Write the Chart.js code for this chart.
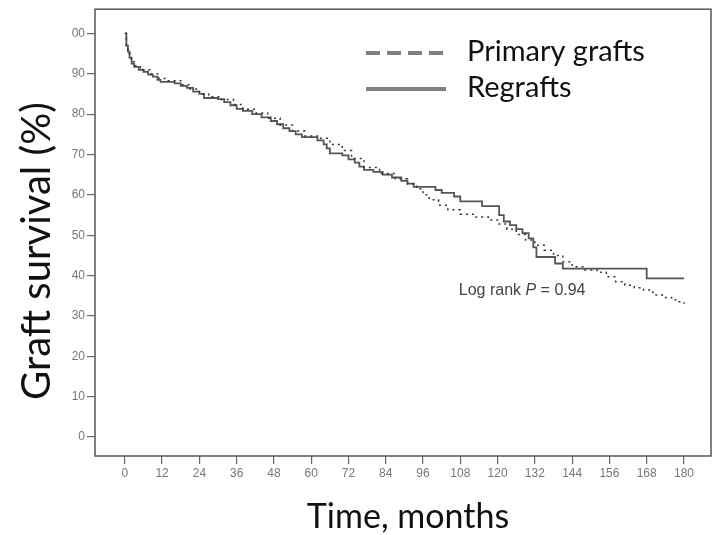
<!DOCTYPE html>
<html lang="en">
<head>
    <meta charset="UTF-8">
    <title>Graft survival</title>
    <script src="https://cdn.jsdelivr.net/npm/chart.js"></script>
    <style>
        body {
            margin: 0;
            padding: 0;
            background-color: #fff;
        }
        #wrap {
            width: 720px;
            height: 535px;
        }
    </style>
</head>
<body>
    <div id="wrap">
        <canvas id="kmChart" width="720" height="535"></canvas>
    </div>

    <script>
        // Kaplan-Meier steps (month, survival %)
        var regraftMonths = [0, 0.5, 1, 1.5, 2.2, 3, 4.5, 6, 7.5, 9, 10.5, 11.5, 16, 18, 20, 22, 24, 25.5, 30, 32, 34, 36, 38, 41, 44, 47, 49, 51, 53, 55, 57, 62, 64, 65, 66, 70, 72, 74, 75.5, 77, 80, 83, 86, 89, 91, 93, 100, 102, 106, 108, 115, 120.5, 122, 124, 126, 128, 130, 131.5, 132.5, 138.5, 141, 168, 180];
        var regraftValues = [100, 97, 95.5, 94, 92.5, 91.7, 91, 90.5, 89.8, 89.3, 88.5, 88, 87.6, 87, 86.5, 85.6, 85, 84, 83.7, 83, 82.2, 81.3, 80.8, 80, 79.2, 78.3, 77.5, 76.5, 75.8, 75, 74.3, 73.5, 72.5, 71.5, 70.3, 69.8, 68.8, 68, 67, 66.2, 65.7, 65, 64.3, 63.5, 62.8, 62, 61.2, 60.5, 59.6, 58.4, 57.2, 55, 53.4, 52.5, 51.5, 50.5, 49.2, 47, 44.6, 43, 41.7, 39.3, 39.3];

        var primaryMonths = [0, 0.5, 1, 2, 3, 5, 8, 11, 14, 18, 21, 24, 27, 31, 35, 38, 42, 46, 50, 54, 58, 62, 66, 70, 73, 77, 82, 87, 91, 94, 96, 98, 101, 104, 108, 113, 117, 120, 123, 126, 129, 132, 135, 138, 141, 144, 148, 152, 155, 158, 161, 164, 167, 170, 173, 176, 178, 180];
        var primaryValues = [100, 97, 95, 93, 92, 91, 90, 88.8, 88.3, 87.3, 86.2, 85, 84.3, 83.6, 82.4, 81.2, 80.3, 79, 77.3, 75.8, 74.6, 74, 72.5, 71, 69, 66.8, 65.3, 64, 62.7, 61.5, 60, 58.8, 57.4, 56.3, 55.2, 54.5, 53.8, 52.8, 51.5, 50.2, 48.8, 47.5, 46.3, 45, 43.4, 42.2, 41.4, 40.8, 39.7, 38.5, 37.6, 37, 36.4, 35.2, 34.6, 34, 33.5, 33];

        var xTicks = [0, 12, 24, 36, 48, 60, 72, 84, 96, 108, 120, 132, 144, 156, 168, 180];
        var yTicks = [0, 10, 20, 30, 40, 50, 60, 70, 80, 90, 100];
        var yTickLabels = ['0', '10', '20', '30', '40', '50', '60', '70', '80', '90', '00'];

        var seriesNames = ['Primary grafts', 'Regrafts'];

        function toPoints(xs, ys) {
            var pts = [];
            for (var i = 0; i < xs.length; i++) {
                pts.push({ x: xs[i], y: ys[i] });
            }
            return pts;
        }

        // box round the plot, axis titles, legend and the log rank note
        var extrasPlugin = {
            id: 'extras',
            afterDraw: function(chart) {
                var ctx = chart.ctx;
                var a = chart.chartArea;
                var xs = chart.scales.x;
                var ys = chart.scales.y;

                ctx.save();
                ctx.strokeStyle = '#555';
                ctx.lineWidth = 1.5;
                ctx.strokeRect(a.left, a.top, a.right - a.left, a.bottom - a.top);

                // axis titles
                ctx.fillStyle = '#111';
                ctx.textAlign = 'center';
                ctx.textBaseline = 'middle';
                ctx.font = '34px Lato';
                ctx.fillText('Time, months', 408, 517);

                ctx.save();
                ctx.translate(37, 251);
                ctx.rotate(-Math.PI / 2);
                ctx.font = '40px Lato';
                ctx.fillText('Graft survival (%)', 0, 0);
                ctx.restore();

                // legend
                ctx.strokeStyle = '#808080';
                ctx.lineWidth = 4;
                ctx.setLineDash([14, 7]);
                ctx.beginPath();
                ctx.moveTo(366, 53);
                ctx.lineTo(446, 53);
                ctx.stroke();
                ctx.setLineDash([]);
                ctx.beginPath();
                ctx.moveTo(366, 89);
                ctx.lineTo(446, 89);
                ctx.stroke();

                ctx.textAlign = 'left';
                ctx.font = '29px Lato';
                ctx.fillText(seriesNames[0], 467, 52);
                ctx.fillText(seriesNames[1], 467, 88);

                // log rank note
                var nx = xs.getPixelForValue(107.5);
                var ny = ys.getPixelForValue(36.4);
                ctx.fillStyle = '#444';
                ctx.font = '16px "Liberation Sans"';
                var t1 = 'Log rank ';
                ctx.fillText(t1, nx, ny);
                var w1 = ctx.measureText(t1).width;
                ctx.font = 'italic 16px "Liberation Sans"';
                ctx.fillText('P', nx + w1, ny);
                var w2 = ctx.measureText('P').width;
                ctx.font = '16px "Liberation Sans"';
                ctx.fillText(' = 0.94', nx + w1 + w2, ny);
                ctx.restore();
            }
        };

        var ctx = document.getElementById('kmChart').getContext('2d');
        var kmChart = new Chart(ctx, {
            type: 'line',
            data: {
                datasets: [
                    {
                        label: seriesNames[0],
                        data: toPoints(primaryMonths, primaryValues),
                        borderColor: '#333',
                        borderWidth: 1.5,
                        borderDash: [2, 4],
                        stepped: true,
                        pointRadius: 0,
                        fill: false
                    },
                    {
                        label: seriesNames[1],
                        data: toPoints(regraftMonths, regraftValues),
                        borderColor: '#555',
                        borderWidth: 1.8,
                        stepped: true,
                        pointRadius: 0,
                        fill: false
                    }
                ]
            },
            options: {
                responsive: false,
                animation: false,
                layout: {
                    padding: { top: 9, right: 9, left: 0, bottom: 0 }
                },
                plugins: {
                    legend: { display: false },
                    tooltip: { enabled: false }
                },
                scales: {
                    x: {
                        type: 'linear',
                        min: -9.6,
                        max: 188.7,
                        afterBuildTicks: function(scale) {
                            scale.ticks = xTicks.map(function(v) { return { value: v }; });
                        },
                        afterFit: function(scale) {
                            scale.height = 79;
                        },
                        border: { display: false },
                        grid: {
                            drawOnChartArea: false,
                            drawTicks: true,
                            tickLength: 8,
                            color: '#666',
                            lineWidth: 1.2
                        },
                        ticks: {
                            autoSkip: false,
                            maxRotation: 0,
                            padding: 2,
                            color: '#777',
                            font: { family: '"Liberation Sans"', size: 12 }
                        }
                    },
                    y: {
                        type: 'linear',
                        min: -4.7,
                        max: 106,
                        afterBuildTicks: function(scale) {
                            scale.ticks = yTicks.map(function(v) { return { value: v }; });
                        },
                        afterFit: function(scale) {
                            scale.width = 95;
                        },
                        border: { display: false },
                        grid: {
                            drawOnChartArea: false,
                            drawTicks: true,
                            tickLength: 8,
                            color: '#666',
                            lineWidth: 1.2
                        },
                        ticks: {
                            autoSkip: false,
                            padding: 2,
                            color: '#777',
                            font: { family: '"Liberation Sans"', size: 12 },
                            callback: function(value) {
                                var i = yTicks.indexOf(value);
                                return i >= 0 ? yTickLabels[i] : '';
                            }
                        }
                    }
                }
            },
            plugins: [extrasPlugin]
        });
    </script>
</body>
</html>
